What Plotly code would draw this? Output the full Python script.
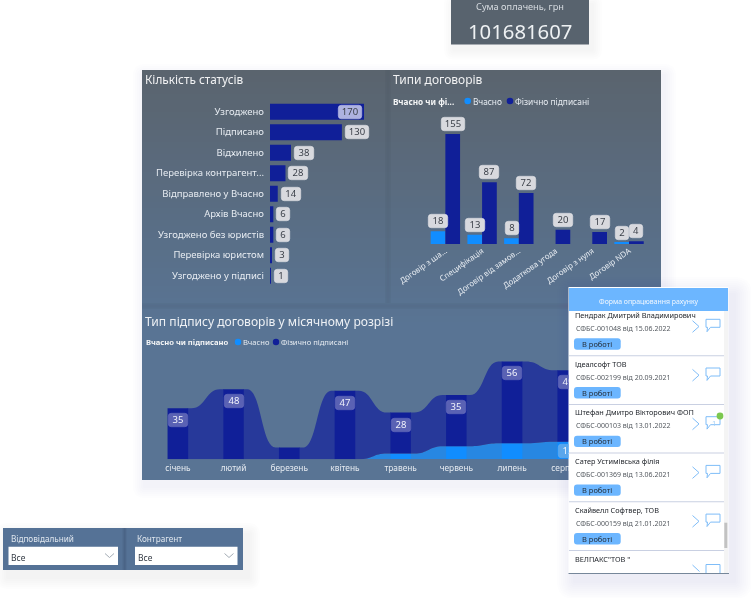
import plotly.graph_objects as go

W, H = 751, 598
FONT = "Noto Sans, Open Sans, sans-serif"

# ---------- data ----------
kpi_title = "Сума оплачень, грн"
kpi_value = "101681607"

status_names = ["Узгоджено", "Підписано", "Відхилено", "Перевірка контрагент...", "Відправлено у Вчасно",
                "Архів Вчасно", "Узгоджено без юристів", "Перевірка юристом", "Узгоджено у підписі"]
status_values = [170, 130, 38, 28, 14, 6, 6, 3, 1]

type_names = ["Договір з ша...", "Специфікація", "Договір від замов...", "Додаткова угода", "Договір з нуля", "Договір NDA"]
type_vchasno = [18, 13, 8, None, None, 2]
type_physical = [155, 87, 72, 20, 17, 4]

months = ["січень", "лютий", "березень", "квітень", "травень", "червень", "липень", "серпень"]
month_vchasno = [0, 0, 0, 0, 4, 9, 11, 12]
month_physical = [35, 48, 8, 47, 28, 35, 56, 49]
month_labelled = [True, True, False, True, True, True, True, True]

form_names = ["Пендрак Дмитрий Владимирович", "Ідеалсофт ТОВ", "Штефан Дмитро Вікторович ФОП",
              "Сатер Устимівська філія", "Скайвелл Софтвер, ТОВ", 'ВЕЛПАКС"ТОВ "']
form_codes = ["СФБС-001048 від 15.06.2022", "СФБС-002199 від 20.09.2021", "СФБС-000103 від 13.01.2022",
              "СФБС-001369 від 13.06.2021", "СФБС-000159 від 21.01.2021"]
form_status = "В роботі"

# ---------- colours ----------
NAVY, BLUE = "#101f98", "#118dff"
RIB_NAVY, RIB_BLUE = "#27399a", "#2787e2"
LABEL_BG, LABEL_TXT = "#d8d9de", "#3a3f48"
SOFT = "#e6ebf1"
FORM_BLUE = "#6cb6ff"

# ---------- paper helpers ----------
px = lambda x: x / W
py = lambda y: 1 - y / H
shapes, notes = [], []


def rrect_path(x0, y0, x1, y1, r):
    a, b, c, d = px(x0), px(x1), py(y0), py(y1)
    rx, ry = r / W, r / H
    return (f"M{a+rx},{c} L{b-rx},{c} Q{b},{c} {b},{c-ry} L{b},{d+ry} Q{b},{d} {b-rx},{d} "
            f"L{a+rx},{d} Q{a},{d} {a},{d+ry} L{a},{c-ry} Q{a},{c} {a+rx},{c} Z")


def rect(x0, y0, x1, y1, fill, layer="below", r=0):
    if r:
        shapes.append(dict(type="path", path=rrect_path(x0, y0, x1, y1, r), xref="paper", yref="paper",
                           fillcolor=fill, line=dict(width=0), layer=layer))
    else:
        shapes.append(dict(type="rect", x0=px(x0), x1=px(x1), y0=py(y0), y1=py(y1), xref="paper", yref="paper",
                           fillcolor=fill, line=dict(width=0), layer=layer))


def shadow(x0, y0, x1, y1, dx=5, dy=8, spread=16, layer="below", col="105,120,135", a=0.014):
    for k in range(spread, 0, -2):
        rect(x0 + dx - k, y0 + dy - k, x1 + dx + k, y1 + dy + k, f"rgba({col},{a})", layer, r=k)


def line_path(pts, color, width=1.0, layer="above", close=False, fill=None):
    p = "M" + " L".join(f"{px(x)},{py(y)}" for x, y in pts) + (" Z" if close else "")
    shapes.append(dict(type="path", path=p, xref="paper", yref="paper", layer=layer,
                       line=dict(color=color, width=width), fillcolor=fill or "rgba(0,0,0,0)"))


def circle(cx, cy, r, fill, layer="below"):
    shapes.append(dict(type="circle", x0=px(cx - r), x1=px(cx + r), y0=py(cy + r), y1=py(cy - r),
                       xref="paper", yref="paper", fillcolor=fill, line=dict(width=0), layer=layer))


def txt(x, y, s, size, color=SOFT, anchor="left"):
    if anchor == "left":
        x -= 1.2
    notes.append(dict(x=px(x), y=py(y), xref="paper", yref="paper", text=s, showarrow=False, xanchor=anchor,
                      yanchor="middle", font=dict(size=size, color=color), borderpad=0))


def data_label(xref, yref, x, y, v, xanchor="center", yanchor="middle", xshift=0, yshift=0,
               bg=LABEL_BG, fg=LABEL_TXT, border="#e6e7ea", size=9.5):
    n = len(str(v))
    notes.append(dict(x=x, y=y, xref=xref, yref=yref, text=str(v), showarrow=False, xanchor=xanchor, yanchor=yanchor,
                      xshift=xshift, yshift=yshift, bgcolor=bg, bordercolor=border, borderwidth=0.5,
                      font=dict(size=size, color=fg), width=[0, 13, 19, 23][n], height=12.5, borderpad=0, align="center"))


# ---------- background cards ----------
shadow(142, 70, 661, 480, dx=3, dy=6, spread=12, a=0.012)
top, bot = (90, 100, 110), (89, 116, 148)
for y in range(70, 480, 6):
    u = min(1.0, (y - 70) / 250)
    c = tuple(round(top[j] + (bot[j] - top[j]) * u) for j in range(3))
    rect(142, y, 661, 480, f"rgb{c}")
# gutters between the tiles
for k, a in enumerate([0.05, 0.07, 0.09, 0.09, 0.07, 0.05]):
    rect(385 + k, 70, 386 + k, 303, f"rgba(40,50,65,{a})")
    rect(142, 303 + k, 661, 304 + k, f"rgba(40,50,65,{a})")

shadow(451, 0, 589, 44.5, dx=3, dy=5, spread=10)
rect(451, 0, 589, 44.5, "#58636e")
txt(520, 6.5, kpi_title, 9.2, "#d7dce1", "center")
txt(520, 31, kpi_value, 20.3, "#eef1f3", "center")

shadow(3, 528, 243, 570, dx=5, dy=7, spread=12)
rect(3, 528, 243, 570, "#557296")
for k, a in enumerate([0.06, 0.12, 0.2, 0.14, 0.06]):
    rect(122 + k, 528, 123 + k, 570, f"rgba(30,45,70,{a})")
for x0, x1, label in [(8.5, 118, "Відповідальний"), (135, 237.5, "Контрагент")]:
    rect(x0, 546.7, x1, 565, "#ffffff")
    line_path([(x1 - 13, 553.5), (x1 - 8.5, 557.5), (x1 - 4, 553.5)], "#9aa3ad", 0.9, "below")
    txt(x0 + 2.3, 538, label, 8.2, "#dfe6ee")
    txt(x0 + 3, 557, "Все", 8.5, "#333a44")

# ---------- titles and hand-built legends ----------
txt(145.5, 79, "Кількість статусів", 11.8, "#f1f2f3")
txt(393, 79, "Типи договорів", 12, "#f1f2f3")
txt(145.5, 321, "Тип підпису договорів у місячному розрізі", 12.1, "#eef1f5")

txt(393, 101, "<b>Вчасно чи фі...</b>", 8.2, "#f4f5f6")
circle(467.7, 101, 3.3, BLUE)
txt(473, 101, "Вчасно", 8.3, SOFT)
circle(510, 101, 3.3, NAVY)
txt(515, 101, "Фізично підписані", 8.4, SOFT)

txt(146, 342, "<b>Вчасно чи підписано</b>", 7.6, "#f4f5f6")
circle(238, 342, 3.2, BLUE)
txt(243, 342, "Вчасно", 7.6, SOFT)
circle(276, 342, 3.2, NAVY)
txt(281, 342, "Фізично підписані", 7.6, SOFT)

# ---------- figure ----------
fig = go.Figure()

# status bars
fig.add_bar(x=status_values, y=status_names, orientation="h", width=0.78, marker=dict(color=NAVY, line=dict(width=0)),
            xaxis="x", yaxis="y", showlegend=False)
for name, v in zip(status_names, status_values):
    if v >= 170:
        data_label("x", "y", v, name, v, xanchor="right", xshift=-2, bg="#aeb2e0", border="#c4c7ea")
    else:
        data_label("x", "y", v, name, v, xanchor="left", xshift=3)

# type bars
fig.add_bar(x=type_names, y=type_vchasno, width=0.4, offset=-0.4, marker=dict(color=BLUE, line=dict(width=0)),
            xaxis="x2", yaxis="y2", showlegend=False)
fig.add_bar(x=type_names, y=type_physical, width=0.4, offset=0.0, marker=dict(color=NAVY, line=dict(width=0)),
            xaxis="x2", yaxis="y2", showlegend=False)
for name, v in zip(type_names, type_vchasno):
    if v is not None:
        data_label("x2", "y2", name, v, v, yanchor="bottom", xshift=-7.3, yshift=3)
for name, v in zip(type_names, type_physical):
    data_label("x2", "y2", name, v, v, yanchor="bottom", xshift=7.3, yshift=3)

# monthly columns, with ribbons between them drawn as curved shapes on the same axes
HW, HOLD = 0.185, 0.07
stack_top = [a + b for a, b in zip(month_vchasno, month_physical)]
idx = list(range(len(months)))


def add_ribbon(lower, upper, color):
    for i in idx[:-1]:
        a, b = i + HW - 0.01, i + 1 - HW + 0.01
        a2, b2 = a + HOLD, b - HOLD
        m = (a2 + b2) / 2
        l0, l1, u0, u1 = lower[i], lower[i + 1], upper[i], upper[i + 1]
        if l0 == u0 and l1 == u1:
            continue
        path = (f"M{a},{l0} L{a2},{l0} C{m},{l0} {m},{l1} {b2},{l1} L{b},{l1} "
                f"L{b},{u1} L{b2},{u1} C{m},{u1} {m},{u0} {a2},{u0} L{a},{u0} Z")
        shapes.append(dict(type="path", path=path, xref="x3", yref="y3", layer="below",
                           fillcolor=color, line=dict(width=0)))


add_ribbon([0] * len(idx), month_vchasno, RIB_BLUE)
add_ribbon(month_vchasno, stack_top, RIB_NAVY)

fig.add_bar(x=idx, y=month_vchasno, width=0.37, marker=dict(color=BLUE, line=dict(width=0)), xaxis="x3", yaxis="y3", showlegend=False)
fig.add_bar(x=idx, y=month_physical, base=month_vchasno, width=0.37, marker=dict(color=NAVY, line=dict(width=0)),
            xaxis="x3", yaxis="y3", showlegend=False)

clip_ids = []
for i, top_v, ph, vc, show in zip(idx, stack_top, month_physical, month_vchasno, month_labelled):
    if show:
        if i == idx[-1]:
            clip_ids.append(len(notes))
        data_label("x3", "y3", i, top_v, ph, yanchor="top", yshift=-5, bg="#5a62b4", fg="#f2f3fb", border="#6a71bd")
    if vc >= 12:
        clip_ids.append(len(notes))
        data_label("x3", "y3", i, vc / 2, vc, bg="#5aa6ec", fg="#f2f7fd", border="#6fb2ef")

# ---------- invoice form (drawn above the charts) ----------
shadow(569, 287, 728, 573, dx=6, dy=8, spread=18, layer="above", a=0.013)
rect(568.5, 287, 728.5, 574, "#ffffff", "above")
rect(569, 288, 728, 311, FORM_BLUE, "above")
txt(649, 301, "Форма опрацювання рахунку", 6.9, "#f2f8ff", "center")
rect(724, 311, 728, 573, "#f4f4f4", "above")
rect(724.3, 522.7, 727.3, 548, "#c2c2c2", "above")
rect(568.5, 573, 729, 574, "#76879a", "above")

ROW = 48.7
for i, name in enumerate(form_names):
    d = ROW * i
    txt(574.7, 315 + d, name, 7.3, "#22262c")
    if i < len(form_codes):
        txt(575.7, 328.3 + d, form_codes[i], 7.0, "#555a60")
        rect(574, 338.3 + d, 620.7, 349.7 + d, FORM_BLUE, "above", r=3)
        txt(597.3, 344 + d, form_status, 7.5, "#25303c", "center")
        rect(569, 355.2 + d, 724, 356.2 + d, "#c9d0e2", "above")
        line_path([(692.5, 320.7 + d), (699, 326.5 + d), (692.5, 332.3 + d)], "#7fbdf8", 1.0)
        line_path([(706, 319.3 + d), (720, 319.3 + d), (720, 327.3 + d), (710.5, 327.3 + d),
                   (707, 331.7 + d), (707.5, 327.3 + d), (706, 327.3 + d)], "#7fbdf8", 1.0, close=True)
line_path([(692.5, 565), (699.5, 571.5)], "#7fbdf8", 1.0)
line_path([(706, 573), (706, 564.5), (720, 564.5), (720, 573)], "#7fbdf8", 1.0)
txt(714, 423, "1", 7.5, "#a5d0f7", "center")
circle(720, 416, 3.4, "#7cc84f", "above")

# ---------- layout ----------
hidden = dict(visible=False, fixedrange=True, automargin=False)
plain = dict(showgrid=False, zeroline=False, showline=False, ticks="", automargin=False, fixedrange=True)
fig.update_layout(
    template="none",
    width=W, height=H, margin=dict(l=0, r=0, t=0, b=0, pad=0), autosize=False,
    paper_bgcolor="#ffffff", plot_bgcolor="rgba(0,0,0,0)", barmode="overlay",
    font=dict(family=FONT, color=SOFT, size=9), showlegend=False, shapes=shapes, annotations=notes,
    xaxis=dict(domain=[px(270), px(380.6)], range=[0, 200], anchor="y", **hidden),
    yaxis=dict(domain=[py(285.9), py(101.4)], type="category", autorange="reversed", anchor="x",
               ticklabelstandoff=5, tickfont=dict(size=9.5, color=SOFT), **plain),
    xaxis2=dict(domain=[px(427), px(647.4)], type="category", anchor="y2", ticklabelstandoff=0,
                tickangle=-35, tickfont=dict(size=7.9, color=SOFT), **plain),
    yaxis2=dict(domain=[py(244), py(102)], range=[0, 200], anchor="x2", **hidden),
    xaxis3=dict(domain=[px(150), px(595.6)], range=[-0.5, 7.5], anchor="y3", tickmode="array", tickvals=idx,
                ticktext=months, ticklabelstandoff=2, tickfont=dict(size=8.3, color=SOFT), **plain),
    yaxis3=dict(domain=[py(459.3), py(342.5)], range=[0, 80], anchor="x3", **hidden),
)

post = """
document.body.style.margin='0';
document.body.style.overflow='hidden';
var gd=document.getElementById('{plot_id}');
gd.querySelectorAll('.annotation rect.bg').forEach(function(r){r.setAttribute('rx','3');r.setAttribute('ry','3');});
var clip=%s;
clip.forEach(function(i){
  var g=gd.querySelector('.annotation[data-index="'+i+'"]');
  if(!g)return;
  var svg=g.ownerSVGElement,ns='http://www.w3.org/2000/svg';
  if(!svg.querySelector('#formclip')){
    var c=document.createElementNS(ns,'clipPath');c.setAttribute('id','formclip');
    var r=document.createElementNS(ns,'rect');r.setAttribute('x','0');r.setAttribute('y','0');
    r.setAttribute('width','568.5');r.setAttribute('height','598');c.appendChild(r);svg.appendChild(c);
  }
  g.setAttribute('clip-path','url(#formclip)');
});
gd.style.filter='blur(0.35px)';
""" % clip_ids

fig.write_html("out.html", post_script=post, config=dict(displayModeBar=False, responsive=False))
